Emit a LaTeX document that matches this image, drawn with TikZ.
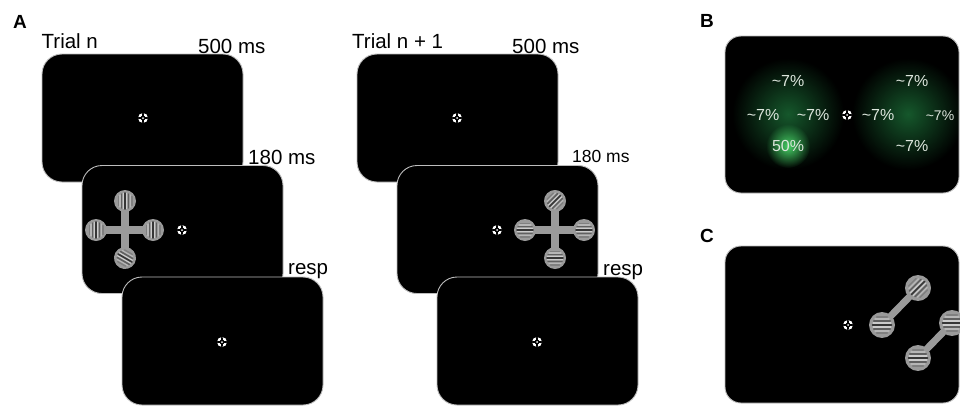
\documentclass[tikz,border=0pt]{standalone}
\usepackage{fontspec}
\setmainfont{Liberation Sans}
\usetikzlibrary{fadings}
\definecolor{gbase}{HTML}{9A9A9A}
\definecolor{gk1}{HTML}{363636}
\definecolor{gk2}{HTML}{606060}
\definecolor{gk3}{HTML}{808080}
\definecolor{gw1}{HTML}{CCCCCC}
\definecolor{gw2}{HTML}{B6B6B6}
\definecolor{scrborder}{HTML}{BDBDBD}
\definecolor{glowdim}{RGB}{22,88,44}
\definecolor{glowhot}{RGB}{70,205,100}
\definecolor{pcttext}{HTML}{DDE6DD}
\tikzfading[name=glowfade, inner color=transparent!0, outer color=transparent!100]
\tikzset{
  screen/.style={rectangle, rounded corners=20pt, fill=black, draw=scrborder, line width=0.9pt,
    minimum width=201pt, minimum height=128pt, inner sep=0pt},
  bigscreen/.style={screen, rounded corners=16pt, minimum width=234pt, minimum height=157pt},
  lbl/.style={font=\fontsize{20.5}{24}\selectfont, anchor=base west, inner sep=0pt},
  smalllbl/.style={lbl, font=\fontsize{17.5}{21}\selectfont},
  panel/.style={font=\fontsize{19}{22}\selectfont\bfseries, anchor=base west, inner sep=0pt},
  pct/.style={font=\fontsize{16}{19}\selectfont, anchor=base, inner sep=0pt, text=pcttext},
  arm/.style={draw=gbase, line width=8pt},
  thinarm/.style={draw=gbase, line width=7pt},
  fix/.style={circle, inner sep=0pt, minimum size=10pt, fill=white, path picture={
     \fill[black] (path picture bounding box.center) circle (2.4pt);
     \draw[black, line width=1.3pt] ([yshift=-6pt]path picture bounding box.center) -- ([yshift=6pt]path picture bounding box.center);
     \draw[black, line width=1.3pt] ([xshift=-6pt]path picture bounding box.center) -- ([xshift=6pt]path picture bounding box.center);
     \fill[white] (path picture bounding box.center) circle (1pt);
  }}
}
% grating: #1 centre, #2 stripe angle, #3 scale
\newcommand\gratingat[3]{%
  \begin{scope}[shift={(#1)}, rotate=#2, scale=#3]
    \fill[gbase] (0,0) circle (11);
    \clip (0,0) circle (11);
    \foreach \p/\c/\l/\w in {1.7/gw1/7.5/1.2pt, -1.7/gw1/7.5/1.2pt, 5.1/gw2/6/1.2pt, -5.1/gw2/6/1.2pt,
                            0/gk1/8/1.6pt, 3.4/gk2/7/1.5pt, -3.4/gk2/7/1.5pt, 6.8/gk3/4.5/1.4pt, -6.8/gk3/4.5/1.4pt}
      \draw[\c, line width=\w, line cap=round] (\p,-\l) -- (\p,\l);
  \end{scope}}
\begin{document}
\begin{tikzpicture}[x=1pt, y=-1pt]
\useasboundingbox (0,0) rectangle (960,407);
\fill[white] (0,0) rectangle (960,407);

% ---------------- Panel A, trial n ----------------
\node[panel] (lA) at (13,28) {A};
\node[lbl] (tn) at (41.5,48) {Trial n};
\node[lbl] (d500a) at (198,53) {500 ms};
\node[screen] (a1) at (142.5,118) {};
\node[fix] (fa1) at (143,118) {};

\node[lbl] (d180a) at (248,164) {180 ms};
\node[screen] (a2) at (182.5,229.5) {};
\coordinate (ca) at (125,230);
\coordinate (cat) at (125,201);
\coordinate (cab) at (125,258);
\coordinate (cal) at (96,230);
\coordinate (car) at (153,230);
\draw[arm] (cat) -- (cab);
\draw[arm] (cal) -- (car);
\gratingat{cat}{0}{1}
\gratingat{cal}{0}{1}
\gratingat{car}{0}{1}
\gratingat{cab}{60}{1}
\node[fix] (fa2) at (182,230) {};

\node[lbl] (respa) at (288,274) {resp};
\node[screen] (a3) at (222.5,341) {};
\node[fix] (fa3) at (222,342) {};

% ---------------- Panel A, trial n+1 ----------------
\node[lbl] (tn1) at (352,48) {Trial n + 1};
\node[lbl] (d500b) at (512,53) {500 ms};
\node[screen] (b1) at (457.5,118) {};
\node[fix] (fb1) at (457,118) {};

\node[smalllbl] (d180b) at (572,162) {180 ms};
\node[screen] (b2) at (497.5,229.5) {};
\coordinate (cb) at (555,230);
\coordinate (cbt) at (555,201);
\coordinate (cbb) at (555,258);
\coordinate (cbl) at (525,230);
\coordinate (cbr) at (584,230);
\draw[arm] (cbt) -- (cbb);
\draw[arm] (cbl) -- (cbr);
\gratingat{cbt}{-45}{1}
\gratingat{cbl}{90}{1}
\gratingat{cbr}{90}{1}
\gratingat{cbb}{90}{1}
\node[fix] (fb2) at (497,230) {};

\node[lbl] (respb) at (603,275) {resp};
\node[screen] (b3) at (537.5,341) {};
\node[fix] (fb3) at (537,342) {};

% ---------------- Panel B ----------------
\node[panel] (lB) at (700,27) {B};
\node[bigscreen] (sB) at (842,114.5) {};
\begin{scope}
  \clip[rounded corners=16pt] (725,36) rectangle (959,193);
  \fill[glowdim, path fading=glowfade] (788,114) circle (56);
  \fill[glowdim, path fading=glowfade] (908,114) circle (56);
  \fill[glowhot, path fading=glowfade] (788,146) circle (22);
\end{scope}
\node[pct] (p1) at (788,86) {\textasciitilde 7\%};
\node[pct] (p2) at (912,86) {\textasciitilde 7\%};
\node[pct] (p3) at (763,120) {\textasciitilde 7\%};
\node[pct] (p4) at (813,120) {\textasciitilde 7\%};
\node[pct] (p5) at (878,120) {\textasciitilde 7\%};
\node[pct, font=\fontsize{14}{17}\selectfont] (p6) at (940,120) {\textasciitilde 7\%};
\node[pct] (p7) at (788,151) {50\%};
\node[pct] (p8) at (912,151) {\textasciitilde 7\%};
\node[fix] (fB) at (847,115) {};

% ---------------- Panel C ----------------
\node[panel] (lC) at (700,242) {C};
\node[bigscreen] (sC) at (842,324.5) {};
\coordinate (c1) at (882,325);
\coordinate (c2) at (918,288);
\coordinate (c3) at (952,323);
\coordinate (c4) at (918,358);
\draw[thinarm] (c1) -- (c2);
\draw[thinarm] (c3) -- (c4);
\gratingat{c1}{90}{1.18}
\gratingat{c2}{-45}{1.18}
\gratingat{c3}{90}{1.18}
\gratingat{c4}{90}{1.18}
\node[fix] (fC) at (848,325) {};
\end{tikzpicture}
\end{document}
